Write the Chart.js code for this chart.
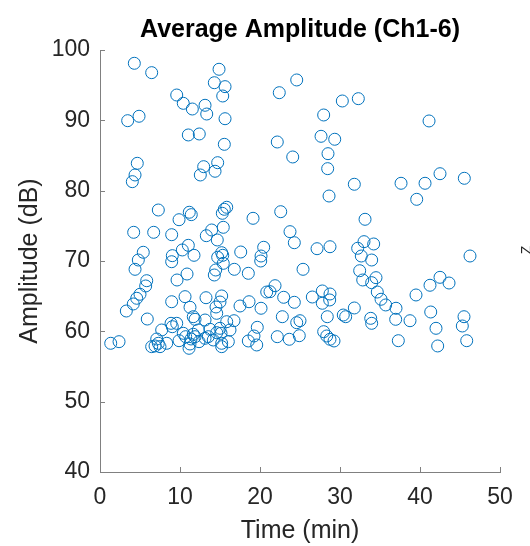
<!DOCTYPE html>
<html>
<head>
<meta charset="utf-8">
<title>Average Amplitude (Ch1-6)</title>
<script src="https://cdn.jsdelivr.net/npm/chart.js@4/dist/chart.umd.min.js"></script>
<style>
  html, body { margin: 0; padding: 0; background: #ffffff; }
  #wrap { width: 530px; height: 546px; }
</style>
</head>
<body>
<div id="wrap"><canvas id="chart" width="530" height="546"></canvas></div>
<script>
// Event time (min) and averaged amplitude (dB) over channels 1-6
const timeMin = [
  4.29, 6.46, 14.88, 14.29, 15.63, 15.34, 9.59, 10.41, 11.54, 13.13,
  13.34, 15.63, 3.46, 4.88, 11.04, 12.41, 15.54, 4.66, 4.38, 4.04,
  12.96, 12.54, 14.38, 14.71, 24.59, 22.41, 30.29, 32.29, 27.96, 27.63,
  29.34, 22.16, 24.09, 28.50, 28.46, 31.79, 41.13, 37.63, 40.63, 42.50,
  45.54, 28.63, 7.29, 11.16, 11.41, 9.88, 15.54, 15.84, 15.29, 15.41,
  4.21, 6.71, 8.96, 13.96, 13.29, 14.66, 11.04, 10.29, 11.75, 9.04,
  8.96, 5.41, 4.79, 4.38, 15.21, 15.34, 14.71, 15.41, 14.46, 14.29,
  16.79, 5.84, 5.71, 9.63, 10.88, 19.13, 22.59, 33.13, 23.75, 24.29,
  27.13, 28.75, 32.21, 33.00, 34.21, 32.66, 33.96, 20.46, 20.13, 20.09,
  17.59, 18.54, 25.38, 32.46, 32.84, 33.96, 34.50, 21.88, 21.25, 20.84,
  22.96, 24.29, 26.54, 27.79, 28.75, 28.71, 27.79, 18.63, 17.50, 20.13,
  31.79, 39.59, 46.25, 42.50, 43.63, 41.25, 39.50, 34.66, 35.13, 35.71,
  37.00, 41.34, 3.29, 5.00, 4.59, 4.16, 8.96, 10.63, 13.25, 15.21,
  15.00, 14.50, 11.25, 14.59, 5.91, 11.66, 11.88, 13.13, 8.88, 9.59,
  9.04, 7.71, 10.41, 11.66, 12.29, 13.75, 15.00, 14.59, 15.13, 15.84,
  16.75, 16.04, 15.21, 15.21, 14.16, 13.13, 11.88, 11.38, 11.25, 11.13,
  9.88, 8.34, 7.09, 7.29, 6.88, 7.50, 6.46, 2.38, 1.34, 10.71,
  12.38, 13.54, 16.25, 19.66, 19.25, 18.54, 19.59, 22.79, 24.59, 25.00,
  22.16, 23.66, 24.91, 28.41, 27.96, 28.34, 28.75, 29.25, 30.41, 30.71,
  33.84, 33.96, 36.96, 38.75, 42.00, 45.50, 45.29, 45.84, 42.21, 37.29
];
const amplitudeDb = [
  98.11, 96.78, 97.26, 95.35, 94.79, 93.46, 93.60, 92.42, 91.61, 92.14,
  90.90, 90.23, 89.95, 90.58, 87.92, 88.06, 86.59, 83.89, 82.23, 81.28,
  83.41, 82.23, 82.76, 83.98, 95.74, 93.93, 92.75, 93.08, 90.76, 87.73,
  87.31, 86.92, 84.79, 85.26, 83.13, 80.91, 89.91, 81.05, 81.05, 82.41,
  81.76, 79.24, 77.25, 76.93, 76.59, 75.87, 77.35, 77.64, 76.78, 74.79,
  74.08, 74.08, 73.74, 74.41, 73.60, 72.99, 72.23, 71.57, 70.81, 70.76,
  69.90, 71.24, 70.14, 68.82, 71.18, 70.81, 70.53, 69.67, 68.72, 68.01,
  68.82, 67.20, 66.45, 67.30, 68.15, 76.07, 77.01, 75.93, 74.17, 72.60,
  71.75, 72.03, 71.81, 72.75, 72.42, 70.71, 70.14, 71.95, 70.71, 70.00,
  71.28, 68.25, 68.82, 68.62, 67.30, 66.92, 67.63, 66.49, 65.64, 65.59,
  64.84, 64.13, 64.88, 65.74, 65.31, 64.46, 63.99, 64.21, 63.60, 63.28,
  63.32, 78.77, 70.71, 67.68, 66.87, 66.55, 65.17, 65.59, 64.56, 63.75,
  63.28, 62.75, 62.89, 65.27, 64.70, 63.89, 64.21, 64.93, 64.78, 65.03,
  64.17, 63.46, 63.42, 62.56, 61.75, 62.08, 61.71, 61.61, 61.14, 61.14,
  60.66, 60.19, 59.72, 59.58, 60.19, 60.29, 60.43, 59.81, 59.72, 61.37,
  61.51, 58.53, 58.30, 57.82, 58.77, 59.01, 59.24, 58.91, 58.20, 57.59,
  58.67, 58.30, 58.91, 58.30, 57.92, 57.82, 57.82, 58.53, 58.30, 59.24,
  58.53, 59.24, 60.19, 60.57, 59.34, 58.63, 58.06, 62.08, 61.23, 61.51,
  59.24, 58.87, 59.38, 62.08, 59.95, 59.34, 58.87, 58.63, 62.32, 62.08,
  61.85, 61.14, 61.71, 61.51, 60.43, 62.08, 60.76, 58.67, 57.92, 58.67
];

// Axis limits and tick spacing
const xRange = [0, 50];
const yRange = [40, 100];
const xStep = 10;
const yStep = 10;

const points = timeMin.map((t, i) => ({ x: t, y: amplitudeDb[i] }));

const FONT = "'Liberation Sans', Arial, Helvetica, sans-serif";
const TEXT = '#262626';
const AXIS = '#808080';
const TITLE = 'Average Amplitude (Ch1-6)';

// Tick marks pointing into the plot area
const inwardTicks = {
  id: 'inwardTicks',
  afterDraw(chart) {
    const ctx = chart.ctx;
    const xs = chart.scales.x, ys = chart.scales.y;
    const a = chart.chartArea;
    ctx.save();
    ctx.strokeStyle = AXIS;
    ctx.lineWidth = 1;
    ctx.beginPath();
    xs.ticks.forEach((t, i) => {
      const px = Math.round(xs.getPixelForTick(i)) + 0.5;
      ctx.moveTo(px, a.bottom);
      ctx.lineTo(px, a.bottom - 5);
    });
    ys.ticks.forEach((t, i) => {
      const py = Math.round(ys.getPixelForTick(i)) + 0.5;
      ctx.moveTo(a.left, py);
      ctx.lineTo(a.left + 5, py);
    });
    ctx.stroke();
    ctx.restore();
  }
};

// Title centred over the plot area rather than the whole canvas
const axesTitle = {
  id: 'axesTitle',
  afterDraw(chart) {
    const ctx = chart.ctx;
    const a = chart.chartArea;
    ctx.save();
    ctx.fillStyle = '#000000';
    ctx.font = 'bold 25px ' + FONT;
    ctx.textAlign = 'center';
    ctx.textBaseline = 'alphabetic';
    ctx.fillText(TITLE, (a.left + a.right) / 2, 37);
    ctx.restore();
  }
};

// Edge of the neighbouring panel's rotated label
const sideLabel = {
  id: 'sideLabel',
  afterDraw(chart) {
    const ctx = chart.ctx;
    ctx.save();
    ctx.translate(527, 250);
    ctx.rotate(-Math.PI / 2);
    ctx.fillStyle = TEXT;
    ctx.font = '14px ' + FONT;
    ctx.textAlign = 'center';
    ctx.textBaseline = 'middle';
    ctx.fillText('Z', 0, 0);
    ctx.restore();
  }
};

new Chart(document.getElementById('chart'), {
  type: 'scatter',
  data: {
    datasets: [{
      data: points,
      pointStyle: 'circle',
      pointRadius: 6,
      pointHoverRadius: 6,
      borderWidth: 1,
      borderColor: '#0072BD',
      backgroundColor: 'rgba(0,0,0,0)'
    }]
  },
  options: {
    responsive: false,
    animation: false,
    layout: { padding: { left: 0, right: 30, top: 50, bottom: 0 } },
    plugins: {
      legend: { display: false },
      tooltip: { enabled: false },
      title: { display: false }
    },
    scales: {
      x: {
        type: 'linear',
        min: xRange[0],
        max: xRange[1],
        afterFit(scale) { scale.height = 74; },
        ticks: {
          stepSize: xStep,
          color: TEXT,
          padding: 12,
          maxRotation: 0,
          font: { family: FONT, size: 23 }
        },
        grid: { drawOnChartArea: false, drawTicks: false },
        border: { display: true, color: AXIS, width: 1 },
        title: {
          display: true,
          text: 'Time (min)',
          color: TEXT,
          font: { family: FONT, size: 25 },
          padding: { top: 0, bottom: 0 }
        }
      },
      y: {
        type: 'linear',
        min: yRange[0],
        max: yRange[1],
        afterFit(scale) { scale.width = 100; },
        ticks: {
          stepSize: yStep,
          color: TEXT,
          padding: 10,
          font: { family: FONT, size: 23 }
        },
        grid: { drawOnChartArea: false, drawTicks: false },
        border: { display: true, color: AXIS, width: 1 },
        title: {
          display: true,
          text: 'Amplitude (dB)',
          color: TEXT,
          font: { family: FONT, size: 25 },
          padding: { top: 15, bottom: 15 }
        }
      }
    }
  },
  plugins: [inwardTicks, axesTitle, sideLabel]
});
</script>
</body>
</html>
